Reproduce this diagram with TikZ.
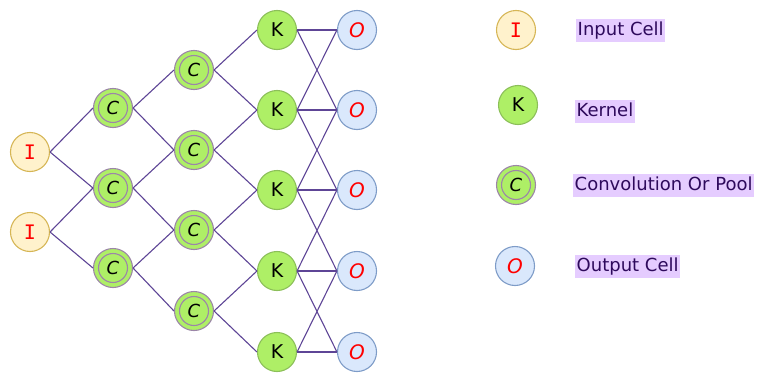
\documentclass[tikz,border=0pt]{standalone}
\usepackage{fontspec}
\setmainfont{DejaVu Sans}
\newfontfamily\monofont{DejaVu Sans Mono}
\begin{document}
\begin{tikzpicture}[x=1pt,y=-1pt,
  link/.style={draw=edgecol,line width=1.1pt},
  cell/.style={circle,minimum size=39pt,inner sep=0pt,line width=1.1pt,font=\fontsize{19}{19}\selectfont},
  incell/.style={cell,fill=inFill,draw=inDraw,text=red,font=\fontsize{20}{20}\selectfont\monofont},
  kcell/.style={cell,fill=kFill,draw=kDraw,text=black},
  couter/.style={cell,fill=kFill,draw=cDraw},
  cinner/.style={circle,minimum size=29pt,inner sep=0pt,draw=cDraw,line width=1.1pt,
    font=\fontsize{18}{18}\selectfont\itshape},
  ocell/.style={cell,fill=oFill,draw=oDraw,text=red,font=\fontsize{20}{20}\selectfont\itshape},
  lbl/.style={anchor=west,fill=lblFill,text=lblText,inner xsep=1.5pt,inner ysep=0pt,
    text height=17pt,text depth=6pt,font=\fontsize{18}{18}\selectfont}
]
\definecolor{edgecol}{HTML}{5E4596}
\definecolor{inFill}{HTML}{FFF2CC}
\definecolor{inDraw}{HTML}{D6B656}
\definecolor{kFill}{HTML}{AEEF66}
\definecolor{kDraw}{HTML}{8CBF5A}
\definecolor{cDraw}{HTML}{9C86A8}
\definecolor{oFill}{HTML}{DAE8FC}
\definecolor{oDraw}{HTML}{7E9CC8}
\definecolor{lblFill}{HTML}{E5CCFF}
\definecolor{lblText}{HTML}{2E0A5C}

\useasboundingbox (0,0) rectangle (757,372);

% input cells
\node[incell] (i1) at (30,152) {I};
\node[incell] (i2) at (30,232) {I};

% first convolution layer
\foreach \n/\y in {1/108,2/188,3/268}{
  \node[couter] (c\n) at (113,\y) {};
  \node[cinner] (ci\n) at (c\n) {C};
}
% second convolution layer
\foreach \n/\y in {1/70,2/150,3/230,4/311}{
  \node[couter] (d\n) at (194,\y) {};
  \node[cinner] (di\n) at (d\n) {C};
}
% kernels and outputs
\foreach \n/\y in {1/30,2/110,3/190,4/271,5/352}{
  \node[kcell] (k\n) at (277,\y) {K};
  \node[ocell] (o\n) at (357,\y) {O};
}

% connections
\draw[link] (i1.east) -- (c1.west);
\draw[link] (i1.east) -- (c2.west);
\draw[link] (i2.east) -- (c2.west);
\draw[link] (i2.east) -- (c3.west);
\foreach \a/\b in {1/1,1/2,2/2,2/3,3/3,3/4}
  \draw[link] (c\a.east) -- (d\b.west);
\foreach \a/\b in {1/1,1/2,2/2,2/3,3/3,3/4,4/4,4/5}
  \draw[link] (d\a.east) -- (k\b.west);
\foreach \a/\b in {1/1,1/2,2/1,2/2,2/3,3/2,3/3,3/4,4/3,4/4,4/5,5/4,5/5}
  \draw[link] (k\a.east) -- (o\b.west);

% legend
\node[incell] (li) at (516,30) {I};
\node[kcell] (lk) at (518,105) {K};
\node[couter] (lc) at (516,185) {};
\node[cinner] (lci) at (lc) {C};
\node[ocell] (lo) at (515,266) {O};

\node[lbl] (ti) at (576,30) {Input Cell};
\node[lbl] (tk) at (575,111) {Kernel};
\node[lbl] (tc) at (573,185) {Convolution Or Pool};
\node[lbl] (to) at (575,266) {Output Cell};
\end{tikzpicture}
\end{document}
